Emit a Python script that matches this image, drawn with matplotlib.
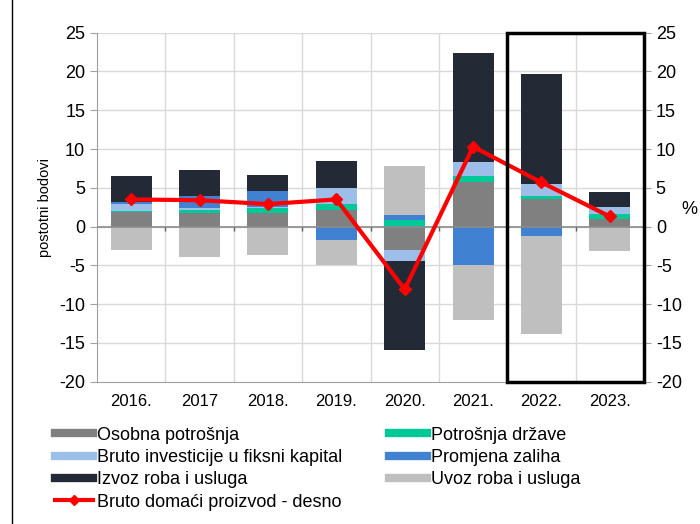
import matplotlib
matplotlib.use("Agg")
import matplotlib.pyplot as plt
import numpy as np
from matplotlib.lines import Line2D
from matplotlib.patches import Rectangle

plt.rcParams['font.family'] = ['Liberation Sans', 'DejaVu Sans']
plt.rcParams['axes.unicode_minus'] = False

years = ["2016.", "2017", "2018.", "2019.", "2020.", "2021.", "2022.", "2023."]
osobna = [1.85, 1.7, 1.8, 2.2, -3.0, 5.8, 3.5, 1.0]
drzava = [0.2, 0.43, 0.6, 0.7, 0.8, 0.77, 0.43, 0.6]
investicije = [0.9, 0.3, 0.13, 2.1, -1.4, 1.7, 1.6, 0.86]
zalihe = [0.2, 1.55, 2.1, -1.7, 0.65, -4.9, -1.2, 0.1]
izvoz = [3.35, 3.3, 2.0, 3.4, -11.5, 14.1, 14.1, 1.9]
uvoz = [-3.0, -3.9, -3.7, -3.3, 6.3, -7.1, -12.6, -3.1]
bdp = [3.5, 3.4, 2.9, 3.5, -8.1, 10.3, 5.7, 1.3]

series = [
    ("Osobna potrošnja", osobna, "#808080"),
    ("Potrošnja države", drzava, "#00C896"),
    ("Bruto investicije u fiksni kapital", investicije, "#9DBEE8"),
    ("Promjena zaliha", zalihe, "#4181D2"),
    ("Izvoz roba i usluga", izvoz, "#232A36"),
    ("Uvoz roba i usluga", uvoz, "#BFBFBF"),
]

fig = plt.figure(figsize=(7.0, 5.24), dpi=100)
ax = fig.add_axes([0.1386, 0.2716, 0.7814, 0.666])
x = np.arange(len(years))
width = 0.6

pos_base = np.zeros(len(years))
neg_base = np.zeros(len(years))
for name, vals, col in series:
    v = np.array(vals, dtype=float)
    bottoms = np.where(v >= 0, pos_base, neg_base)
    ax.bar(x, v, width, bottom=bottoms, color=col, zorder=3, linewidth=0)
    pos_base += np.where(v >= 0, v, 0)
    neg_base += np.where(v < 0, v, 0)

ax.set_xlim(-0.5, len(years) - 0.5)
ax.set_ylim(-20, 25)
ax.set_yticks(np.arange(-20, 26, 5))
ax.set_xticks(x)
ax.set_xticklabels(years, fontsize=12)
ax.tick_params(axis='x', length=0, pad=9)
ax.tick_params(axis='y', labelsize=13, direction='out', length=5, color='#A0A0A0')

# grid
for yy in np.arange(-15, 26, 5):
    ax.axhline(yy, color='#D9D9D9', lw=1, zorder=1)
for b in np.arange(0.5, len(years) - 0.5, 1):
    ax.axvline(b, color='#D9D9D9', lw=1, zorder=1)
ax.axhline(0, color='#8C8C8C', lw=1.2, zorder=4)
ax.vlines(np.arange(0.5, len(years) - 0.5, 1), -0.6, 0, color='#606060', lw=1, zorder=4)

ax.spines['top'].set_visible(False)
for s in ['left', 'bottom', 'right']:
    ax.spines[s].set_color('#A0A0A0')

ax.set_ylabel("postotni bodovi", fontsize=10.5, labelpad=5)

ax2 = ax.twinx()
ax2.set_ylim(-20, 25)
ax2.set_yticks(np.arange(-20, 26, 5))
ax2.tick_params(axis='y', labelsize=13, direction='out', length=5, color='#A0A0A0')
for s in ['top', 'left', 'bottom']:
    ax2.spines[s].set_visible(False)
ax2.spines['right'].set_color('#A0A0A0')
ax2.plot(x, bdp, color='#FF0000', lw=3, marker='D', markersize=6, zorder=5)
fig.text(689 / 700, 1 - 210 / 524, "%", fontsize=13, ha='center', va='center')

# highlight box around 2022-2023
ax2.add_patch(Rectangle((5.5, -20), 2.0, 45, fill=False, edgecolor='black', lw=2.5,
                        clip_on=False, zorder=6))

# left figure border line
fig.add_artist(Line2D([12 / 700, 12 / 700], [0, 1], color='black', lw=1, transform=fig.transFigure))

handles = [
    Line2D([], [], color=series[0][2], lw=6),
    Line2D([], [], color=series[2][2], lw=6),
    Line2D([], [], color=series[4][2], lw=6),
    Line2D([], [], color='#FF0000', lw=3, marker='D', markersize=5),
    Line2D([], [], color=series[1][2], lw=6),
    Line2D([], [], color=series[3][2], lw=6),
    Line2D([], [], color=series[5][2], lw=6),
]
labels = [series[0][0], series[2][0], series[4][0], "Bruto domaći proizvod - desno",
          series[1][0], series[3][0], series[5][0]]
fig.legend(handles, labels, ncol=2, loc='upper left', bbox_to_anchor=(0.0786, 0.186),
           frameon=False, fontsize=13, handlelength=2.1, handletextpad=0.22,
           labelspacing=0.3, columnspacing=2.6, borderaxespad=0, borderpad=0)

fig.savefig("out.png", dpi=100)
